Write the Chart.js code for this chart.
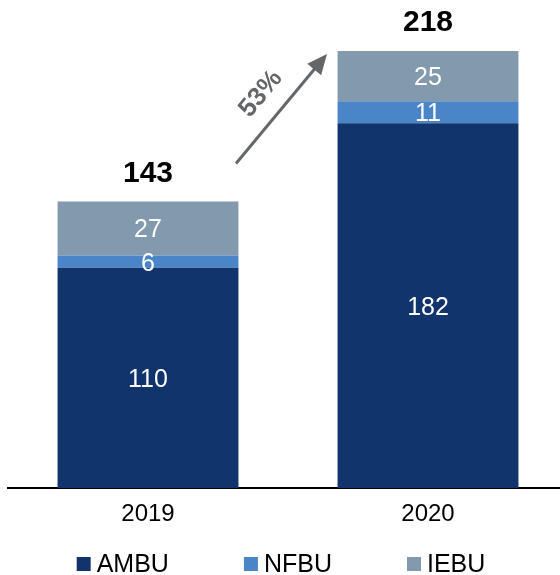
<!DOCTYPE html>
<html>
<head>
<meta charset="utf-8">
<script src="https://cdn.jsdelivr.net/npm/chart.js@4.4.0/dist/chart.umd.min.js"></script>
<style>
body { margin: 0; overflow: hidden; background: #fff; }
#wrap { width: 568px; height: 575px; }
</style>
</head>
<body>
<div id="wrap"><canvas id="chart"></canvas></div>
<script>
var years = ['2019', '2020'];
var ambu = [110, 182];
var nfbu = [6, 11];
var iebu = [27, 25];
var totals = [143, 218];
var growth = '53%';

var FONT = '"Liberation Sans", Arial, sans-serif';

var labelPlugin = {
    id: 'labels',
    afterDatasetsDraw: function (chart) {
        var ctx = chart.ctx;
        ctx.save();
        ctx.textAlign = 'center';
        ctx.textBaseline = 'middle';
        ctx.fillStyle = '#ffffff';
        ctx.font = '25px ' + FONT;
        chart.data.datasets.forEach(function (ds, d) {
            chart.getDatasetMeta(d).data.forEach(function (bar, i) {
                var mid = (bar.y + bar.base) / 2;
                ctx.fillText(ds.data[i], bar.x, mid + 2);
            });
        });
        var y = chart.scales.y;
        ctx.fillStyle = '#000000';
        ctx.font = 'bold 30px ' + FONT;
        var meta = chart.getDatasetMeta(0);
        for (var i = 0; i < totals.length; i++) {
            ctx.fillText(totals[i], meta.data[i].x, y.getPixelForValue(totals[i]) - 28);
        }
        // growth arrow
        var x0 = meta.data[0].x + 88, y0 = y.getPixelForValue(totals[0]) - 38;
        var x1 = meta.data[1].x - 101, y1 = y.getPixelForValue(totals[1]) + 3;
        var ang = Math.atan2(y1 - y0, x1 - x0);
        ctx.strokeStyle = '#646769';
        ctx.fillStyle = '#646769';
        ctx.lineWidth = 3;
        ctx.beginPath();
        ctx.moveTo(x0, y0);
        ctx.lineTo(x1 - 14 * Math.cos(ang), y1 - 14 * Math.sin(ang));
        ctx.stroke();
        ctx.beginPath();
        ctx.moveTo(x1, y1);
        ctx.lineTo(x1 - 20 * Math.cos(ang) + 9 * Math.sin(ang), y1 - 20 * Math.sin(ang) - 9 * Math.cos(ang));
        ctx.lineTo(x1 - 20 * Math.cos(ang) - 9 * Math.sin(ang), y1 - 20 * Math.sin(ang) + 9 * Math.cos(ang));
        ctx.closePath();
        ctx.fill();
        ctx.translate(261, 94);
        ctx.rotate(ang);
        ctx.font = 'bold 26px ' + FONT;
        ctx.fillText(growth, 0, 0);
        ctx.restore();

        // legend
        ctx.save();
        ctx.font = '25px ' + FONT;
        ctx.textBaseline = 'middle';
        ctx.textAlign = 'left';
        var gap = 75, box = 14, tgap = 6, ly = 564;
        var items = chart.data.datasets.map(function (ds) {
            return { text: ds.label, color: ds.backgroundColor, w: box + tgap + ctx.measureText(ds.label).width };
        });
        var total = 0;
        items.forEach(function (it, k) { total += it.w + (k ? gap : 0); });
        var lx = chart.width / 2 - total / 2 - 3;
        items.forEach(function (it) {
            ctx.fillStyle = it.color;
            ctx.fillRect(lx, ly - 7, box, box);
            ctx.fillStyle = '#000';
            ctx.fillText(it.text, lx + box + tgap, ly + 1);
            lx += it.w + gap;
        });
        ctx.restore();
    }
};

new Chart(document.getElementById('chart'), {
    type: 'bar',
    data: {
        labels: years,
        datasets: [
            { label: 'AMBU', data: ambu, backgroundColor: '#12346c' },
            { label: 'NFBU', data: nfbu, backgroundColor: '#4a86c7' },
            { label: 'IEBU', data: iebu, backgroundColor: '#8399ad' }
        ]
    },
    options: {
        responsive: true,
        maintainAspectRatio: false,
        animation: false,
        layout: { padding: { top: 27, left: 8, right: 0, bottom: 34 } },
        datasets: { bar: { categoryPercentage: 1, barPercentage: 0.646 } },
        scales: {
            x: {
                stacked: true,
                grid: { display: false, drawTicks: false },
                border: { display: true, color: '#000', width: 2 },
                ticks: { color: '#000', padding: 12, font: { size: 24, family: FONT } }
            },
            y: {
                stacked: true,
                min: 0,
                max: 230,
                display: false
            }
        },
        plugins: {
            legend: { display: false },
            tooltip: { enabled: false }
        }
    },
    plugins: [labelPlugin]
});
</script>
</body>
</html>
